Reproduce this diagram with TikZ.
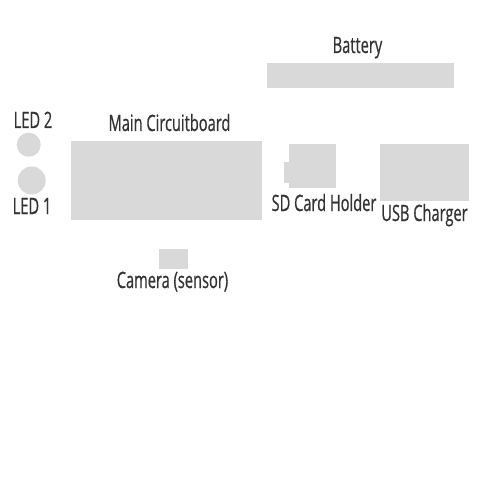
\documentclass[tikz,border=0pt]{standalone}
\usepackage{fontspec}
\setmainfont[FakeStretch=0.65, FakeBold=0.6]{Open Sans}
\usepackage{tikz}
\usetikzlibrary{positioning}
\definecolor{partgray}{RGB}{217,217,217}
\definecolor{labelgray}{RGB}{51,51,51}
\tikzset{
  part/.style={rectangle, fill=partgray, draw=none, inner sep=0pt},
  led/.style={circle, fill=partgray, draw=none, inner sep=0pt},
  lbl/.style={anchor=base, inner sep=0pt, text=labelgray, font=\fontsize{22.5}{22.5}\selectfont}
}
\begin{document}
\begin{tikzpicture}[x=1pt,y=-1pt]
  \useasboundingbox[fill=white] (0,0) rectangle (500,500);
  % parts
  \node[part, minimum width=187pt, minimum height=25pt] (battery) at (360.2,75.2) {};
  \node[part, minimum width=191pt, minimum height=79pt] (board) at (166.5,180.5) {};
  \node[part, minimum width=47pt, minimum height=44pt] (sd) at (312.5,166.3) {};
  \node[part, minimum width=5pt, minimum height=21pt] (sdtab) at (286.5,172.8) {};
  \node[part, minimum width=89pt, minimum height=57pt] (usb) at (424.7,172) {};
  \node[part, minimum width=28.7pt, minimum height=20pt] (camera) at (173.7,259) {};
  \node[led, minimum size=24pt] (led2) at (28.7,144.7) {};
  \node[led, minimum size=28pt] (led1) at (31.7,180.5) {};
  % labels
  \node[lbl] (battery label) at (357.5,53) {Battery};
  \node[lbl] (board label) at (169.5,131) {Main Circuitboard};
  \node[lbl] (sd label) at (324,211) {SD Card Holder};
  \node[lbl] (usb label) at (424.5,221) {USB Charger};
  \node[lbl] (camera label) at (172.5,288) {Camera (sensor)};
  \node[lbl] (led2 label) at (33,128) {LED 2};
  \node[lbl] (led1 label) at (32,214) {LED 1};
\end{tikzpicture}
\end{document}
